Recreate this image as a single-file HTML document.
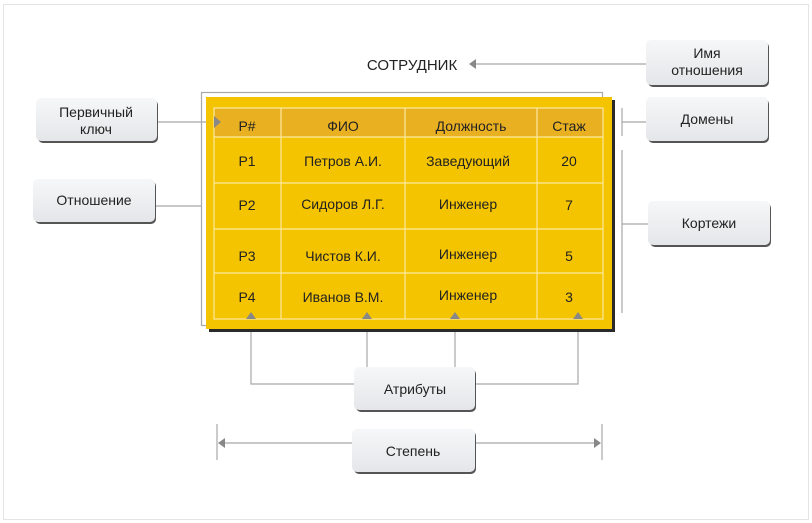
<!DOCTYPE html>
<html><head><meta charset="utf-8"><style>
html,body{margin:0;padding:0;background:#fff;}
svg{display:block;font-family:"Liberation Sans",sans-serif;}
</style></head><body>
<svg width="812" height="523" viewBox="0 0 812 523" xmlns="http://www.w3.org/2000/svg">
<defs>
<linearGradient id="g" x1="0" y1="0" x2="0" y2="1"><stop offset="0" stop-color="#f6f7f8"/><stop offset="1" stop-color="#e4e6e9"/></linearGradient>
</defs>
<rect x="3.5" y="4.5" width="805" height="515" fill="none" stroke="#c8c8c8" stroke-dasharray="1,1"/>
<g stroke="#a8a8a8" stroke-width="1.2" fill="none">
<rect x="201.5" y="92.5" width="401" height="233"/>
<line x1="157" y1="122" x2="210" y2="122"/>
<line x1="155" y1="206" x2="201" y2="206"/>
<line x1="474" y1="64" x2="646" y2="64"/>
<line x1="622" y1="108" x2="622" y2="136"/><line x1="622" y1="122" x2="646" y2="122"/>
<line x1="622" y1="150" x2="622" y2="313"/><line x1="622" y1="224" x2="648" y2="224"/>
<polyline points="251,318 251,384 354,384"/>
<line x1="367" y1="318" x2="367" y2="367"/>
<line x1="455" y1="318" x2="455" y2="367"/>
<polyline points="475,384 578,384 578,318"/>
<line x1="222" y1="443" x2="352" y2="443"/><line x1="475" y1="443" x2="598" y2="443"/>
<line x1="217" y1="424" x2="217" y2="460"/><line x1="602" y1="424" x2="602" y2="460"/>
</g>
<g fill="#888">
<polygon points="469,64 476,59 476,69"/>
<polygon points="218,443 225,438 225,448"/><polygon points="601,443 594,438 594,448"/>
</g>
<rect x="209" y="100" width="406" height="232" fill="#2a2a2a"/>
<rect x="206" y="97" width="406" height="232" fill="#f5c400"/>
<rect x="214" y="108" width="389" height="29" fill="#e9b022"/>
<g stroke="#fbe9a0" stroke-width="1.2" fill="none">
<rect x="214" y="108" width="389" height="211"/>
<line x1="281" y1="108" x2="281" y2="319"/><line x1="405" y1="108" x2="405" y2="319"/><line x1="537" y1="108" x2="537" y2="319"/>
<line x1="214" y1="137" x2="603" y2="137"/><line x1="214" y1="183" x2="603" y2="183"/><line x1="214" y1="229" x2="603" y2="229"/><line x1="214" y1="273" x2="603" y2="273"/>
</g>
<g fill="#888">
<polygon points="221,122 214,116 214,128"/>
<polygon points="251,312 246,319 256,319"/><polygon points="367,312 362,319 372,319"/>
<polygon points="455,312 450,319 460,319"/><polygon points="578,312 573,319 583,319"/>
</g>
<g font-size="14" fill="#222" text-anchor="middle">
<text x="247" y="131">P#</text><text x="343" y="131">ФИО</text><text x="471" y="131">Должность</text><text x="569" y="131">Стаж</text>
<text x="247" y="166">P1</text><text x="343" y="166">Петров А.И.</text><text x="468" y="166">Заведующий</text><text x="569" y="166">20</text>
<text x="247" y="210">P2</text><text x="343" y="209">Сидоров Л.Г.</text><text x="468" y="209">Инженер</text><text x="569" y="210">7</text>
<text x="247" y="261">P3</text><text x="343" y="261">Чистов К.И.</text><text x="468" y="259">Инженер</text><text x="569" y="261">5</text>
<text x="247" y="302">P4</text><text x="343" y="302">Иванов В.М.</text><text x="468" y="300">Инженер</text><text x="569" y="302">3</text>
<text x="412" y="70" font-size="15">СОТРУДНИК</text>
</g>
<g>
<rect x="38" y="100" width="120" height="43" rx="5" fill="#555"/><rect x="36" y="98" width="121" height="43" rx="5" fill="url(#g)"/>
<rect x="35" y="181" width="121" height="43" rx="5" fill="#555"/><rect x="33" y="179" width="122" height="43" rx="5" fill="url(#g)"/>
<rect x="648" y="42" width="121" height="45" rx="5" fill="#555"/><rect x="646" y="40" width="122" height="45" rx="5" fill="url(#g)"/>
<rect x="648" y="99" width="121" height="44" rx="5" fill="#555"/><rect x="646" y="97" width="122" height="44" rx="5" fill="url(#g)"/>
<rect x="650" y="203" width="121" height="44" rx="5" fill="#555"/><rect x="648" y="201" width="122" height="44" rx="5" fill="url(#g)"/>
<rect x="356" y="369" width="120" height="43" rx="5" fill="#555"/><rect x="354" y="367" width="121" height="43" rx="5" fill="url(#g)"/>
<rect x="354" y="431" width="122" height="43" rx="5" fill="#555"/><rect x="352" y="429" width="123" height="43" rx="5" fill="url(#g)"/>
</g>
<g font-size="14" fill="#222" text-anchor="middle">
<text x="96" y="117">Первичный</text><text x="96" y="134">ключ</text>
<text x="94" y="205">Отношение</text>
<text x="707" y="58">Имя</text><text x="707" y="75">отношения</text>
<text x="707" y="124">Домены</text>
<text x="709" y="228">Кортежи</text>
<text x="415" y="394">Атрибуты</text>
<text x="413" y="456">Степень</text>
</g>
</svg>
</body></html>
